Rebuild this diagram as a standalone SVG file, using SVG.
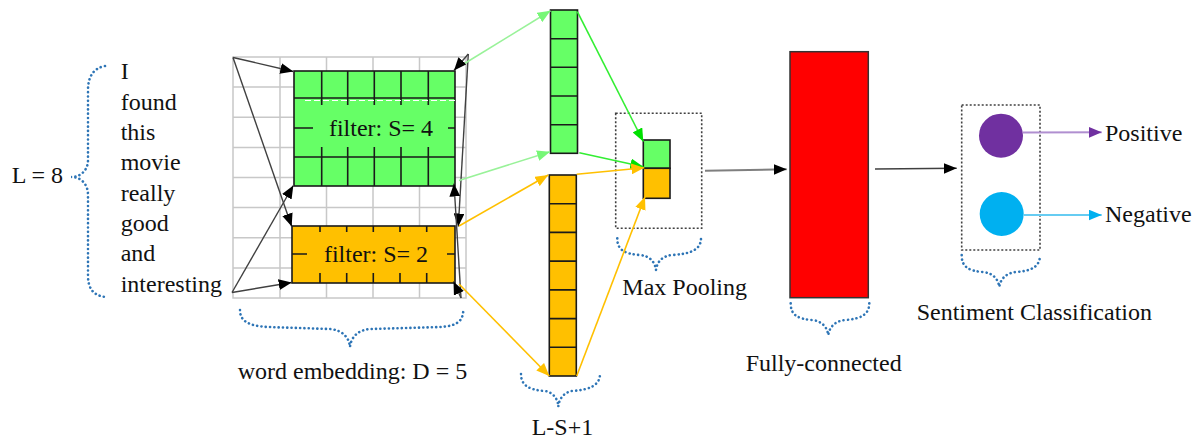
<svg xmlns="http://www.w3.org/2000/svg" width="1200" height="442" viewBox="0 0 1200 442">
<defs>
<style>
text{font-family:"Liberation Serif","Times New Roman",serif;font-size:24px;fill:#111}
.grid{stroke:#c8c8c8;stroke-width:1.5;fill:none}
.brace{fill:none;stroke:#2E75B6;stroke-width:2.6;stroke-dasharray:0.1 4.2;stroke-linecap:round}
.cell{stroke:#1a1a1a;stroke-width:1.6}
.in{stroke:#1a1a1a;stroke-width:1.6;fill:none}
.blk{stroke:#404040;stroke-width:1.4;fill:none;marker-end:url(#mb)}
.lg{stroke:#99F299;stroke-width:1.6;fill:none;marker-end:url(#mlg)}
.bg{stroke:#33EE33;stroke-width:1.6;fill:none;marker-end:url(#mbg)}
.or{stroke:#FFC000;stroke-width:1.6;fill:none;marker-end:url(#mor)}
.dot{fill:none;stroke:#404040;stroke-width:1.6;stroke-dasharray:2 2}
</style>
<marker id="mb" viewBox="0 0 12 10" refX="12" refY="5" markerWidth="13" markerHeight="11" markerUnits="userSpaceOnUse" orient="auto"><path d="M0,0L12,5L0,10z" fill="#000"/></marker>
<marker id="mlg" viewBox="0 0 12 10" refX="12" refY="5" markerWidth="13" markerHeight="11" markerUnits="userSpaceOnUse" orient="auto"><path d="M0,0L12,5L0,10z" fill="#77F777"/></marker>
<marker id="mbg" viewBox="0 0 12 10" refX="12" refY="5" markerWidth="13" markerHeight="11" markerUnits="userSpaceOnUse" orient="auto"><path d="M0,0L12,5L0,10z" fill="#00E000"/></marker>
<marker id="mor" viewBox="0 0 12 10" refX="12" refY="5" markerWidth="13" markerHeight="11" markerUnits="userSpaceOnUse" orient="auto"><path d="M0,0L12,5L0,10z" fill="#FFC000"/></marker>
<marker id="mpu" viewBox="0 0 12 10" refX="12" refY="5" markerWidth="13" markerHeight="11" markerUnits="userSpaceOnUse" orient="auto"><path d="M0,0L12,5L0,10z" fill="#7030A0"/></marker>
<marker id="mcy" viewBox="0 0 12 10" refX="12" refY="5" markerWidth="13" markerHeight="11" markerUnits="userSpaceOnUse" orient="auto"><path d="M0,0L12,5L0,10z" fill="#00B0F0"/></marker>
</defs>
<rect width="1200" height="442" fill="#fff"/>

<g id="sentence">
<text x="11.7" y="182.7">L = 8</text>
<path class="brace" d="M105,66 C94,68 88,76 88,90 L88,160 C88,170 81,177 71,177 C81,177 88,184 88,195 L88,276 C88,289 94,296 106,297"/>
<text x="120.7" y="79">I</text>
<text x="120.7" y="109.5">found</text>
<text x="120.7" y="140">this</text>
<text x="120.7" y="170">movie</text>
<text x="120.7" y="200.5">really</text>
<text x="120.7" y="231">good</text>
<text x="120.7" y="261">and</text>
<text x="120.7" y="291.5">interesting</text>
</g>

<g id="embedding-grid">
<rect class="grid" x="233" y="57" width="233" height="241"/>
<path class="grid" d="M280,57V298M326.5,57V298M373,57V298M419.5,57V298M233,87.1H466M233,117.2H466M233,147.4H466M233,177.5H466M233,207.6H466M233,237.7H466M233,267.9H466"/>
</g>

<g id="filter4">
<rect class="cell" x="294" y="71" width="161" height="115" fill="#66FF66"/>
<path class="in" d="M294,98H455M294,157H455M321.7,71V105M347.7,71V105M374.3,71V105M401,71V105M428.3,71V105M321.7,147V186M347.7,147V186M374.3,147V186M401,147V186M428.3,147V186M294,128H313M448,128H455"/>
<path d="M305,100.5H455" stroke="#fff" stroke-width="1.2" stroke-dasharray="6 3" fill="none"/>
<text x="381" y="136" text-anchor="middle">filter: S= 4</text>
</g>

<g id="filter2">
<rect class="cell" x="292" y="226" width="163" height="57" fill="#FFC000"/>
<path class="in" d="M320,226V232M346.7,226V232M373.3,226V232M400,226V232M426.7,226V232M320,273V283M346.7,273V283M373.3,273V283M400,273V283M426.7,273V283M292,254H307M447,254H455"/>
<text x="376" y="262.3" text-anchor="middle">filter: S= 2</text>
</g>

<g id="feature-map-green">
<rect class="cell" x="550.5" y="10" width="27" height="143.3" fill="#66FF66"/>
<path class="in" d="M550.5,38.7H577.5M550.5,67.3H577.5M550.5,96H577.5M550.5,124.7H577.5"/>
</g>

<g id="feature-map-orange">
<rect class="cell" x="549.3" y="175" width="27" height="201" fill="#FFC000"/>
<path class="in" d="M549.3,203.7H576.3M549.3,232.4H576.3M549.3,261.1H576.3M549.3,289.9H576.3M549.3,318.6H576.3M549.3,347.3H576.3"/>
<path class="brace" d="M521,374 C521,386 530,390 545,391 C552,392 558,398 558.3,406.7 C559,398 565,392 572,391 C588,390 600,386 600,374"/>
<text x="531.7" y="435">L-S+1</text>
</g>

<g id="max-pooling">
<rect class="dot" x="615.7" y="113.3" width="86" height="115"/>
<rect class="cell" x="643.3" y="140" width="26.7" height="28.3" fill="#66FF66"/>
<rect class="cell" x="643.3" y="168.3" width="26.7" height="30" fill="#FFC000"/>
<path class="brace" d="M617.3,238.3 C617,250 625,254 640,255 C650,256 655,262 656,270 C657,262 662,256 672,255 C690,254 701,250 701,238.3"/>
<text x="622.3" y="295">Max Pooling</text>
</g>

<g id="fully-connected">
<rect x="790" y="51.7" width="78.3" height="246" fill="#FF0000" stroke="#333" stroke-width="1.5"/>
<path class="brace" d="M790.7,303.3 C790.5,315 798,319 812,320 C822,321 827,327 828.3,335 C829.5,327 835,321 845,320 C860,319 869.3,315 869.3,303.3"/>
<text x="745.7" y="370.7">Fully-connected</text>
</g>

<g id="classification">
<rect class="dot" x="961.7" y="105" width="78.3" height="145"/>
<circle cx="1001" cy="135.7" r="22" fill="#7030A0"/>
<circle cx="1001.7" cy="214" r="22" fill="#00B0F0"/>
<path class="brace" d="M961.7,255 C961.5,267 969,271 983,272 C993,273 998,279 999.3,286.7 C1000.5,279 1006,273 1016,272 C1031,271 1040,267 1040,255"/>
<text x="916.7" y="320">Sentiment Classification</text>
</g>

<g id="outputs">
<text x="1105" y="141">Positive</text>
<text x="1105" y="222">Negative</text>
</g>

<g id="connectors">
<path class="blk" d="M233,57.5L293.3,71.5"/>
<path class="blk" d="M233,57.5L291.7,226.5"/>
<path class="blk" d="M232,292.5L293.3,185.5"/>
<path class="blk" d="M232,292.5L291.7,282.5"/>
<path class="blk" d="M468.3,54L454,70.5"/>
<path class="blk" d="M468.3,54L458.3,226.5"/>
<path class="blk" d="M461,298L454,183.5"/>
<path class="blk" d="M461,298L453.5,281.5"/>
<path class="lg" d="M465,63.3L550.5,10.7"/>
<path class="lg" d="M459,180.5L550,151.7"/>
<path class="or" d="M459,226L548.3,175"/>
<path class="or" d="M459,284L549.3,376"/>
<path class="bg" d="M577.3,11.7L643.3,141.5"/>
<path class="bg" d="M579.3,152.7L643.3,166.7"/>
<path class="or" d="M576.7,174.3L644.3,167.7"/>
<path class="or" d="M576.7,376L645,196.7"/>
<path d="M705,170.7L786.7,169.3" stroke="#7f7f7f" stroke-width="2" fill="none" marker-end="url(#mb)"/>
<path d="M875,169L956.7,168.3" stroke="#404040" stroke-width="1.6" fill="none" marker-end="url(#mb)"/>
<path d="M1023,132.5L1101.7,132.3" stroke="#B08FD0" stroke-width="2" fill="none" marker-end="url(#mpu)"/>
<path d="M1024,215L1101.7,215" stroke="#66CCF2" stroke-width="2" fill="none" marker-end="url(#mcy)"/>
</g>

<g id="embedding-brace">
<path class="brace" d="M240,310 C240,322 250,326 268,327 L330,329 C342,330 349,337 350,347 C351,337 358,330 370,329 L440,327 C456,326 463,322 463.3,310"/>
<text x="237.7" y="379">word embedding: D = 5</text>
</g>
</svg>
